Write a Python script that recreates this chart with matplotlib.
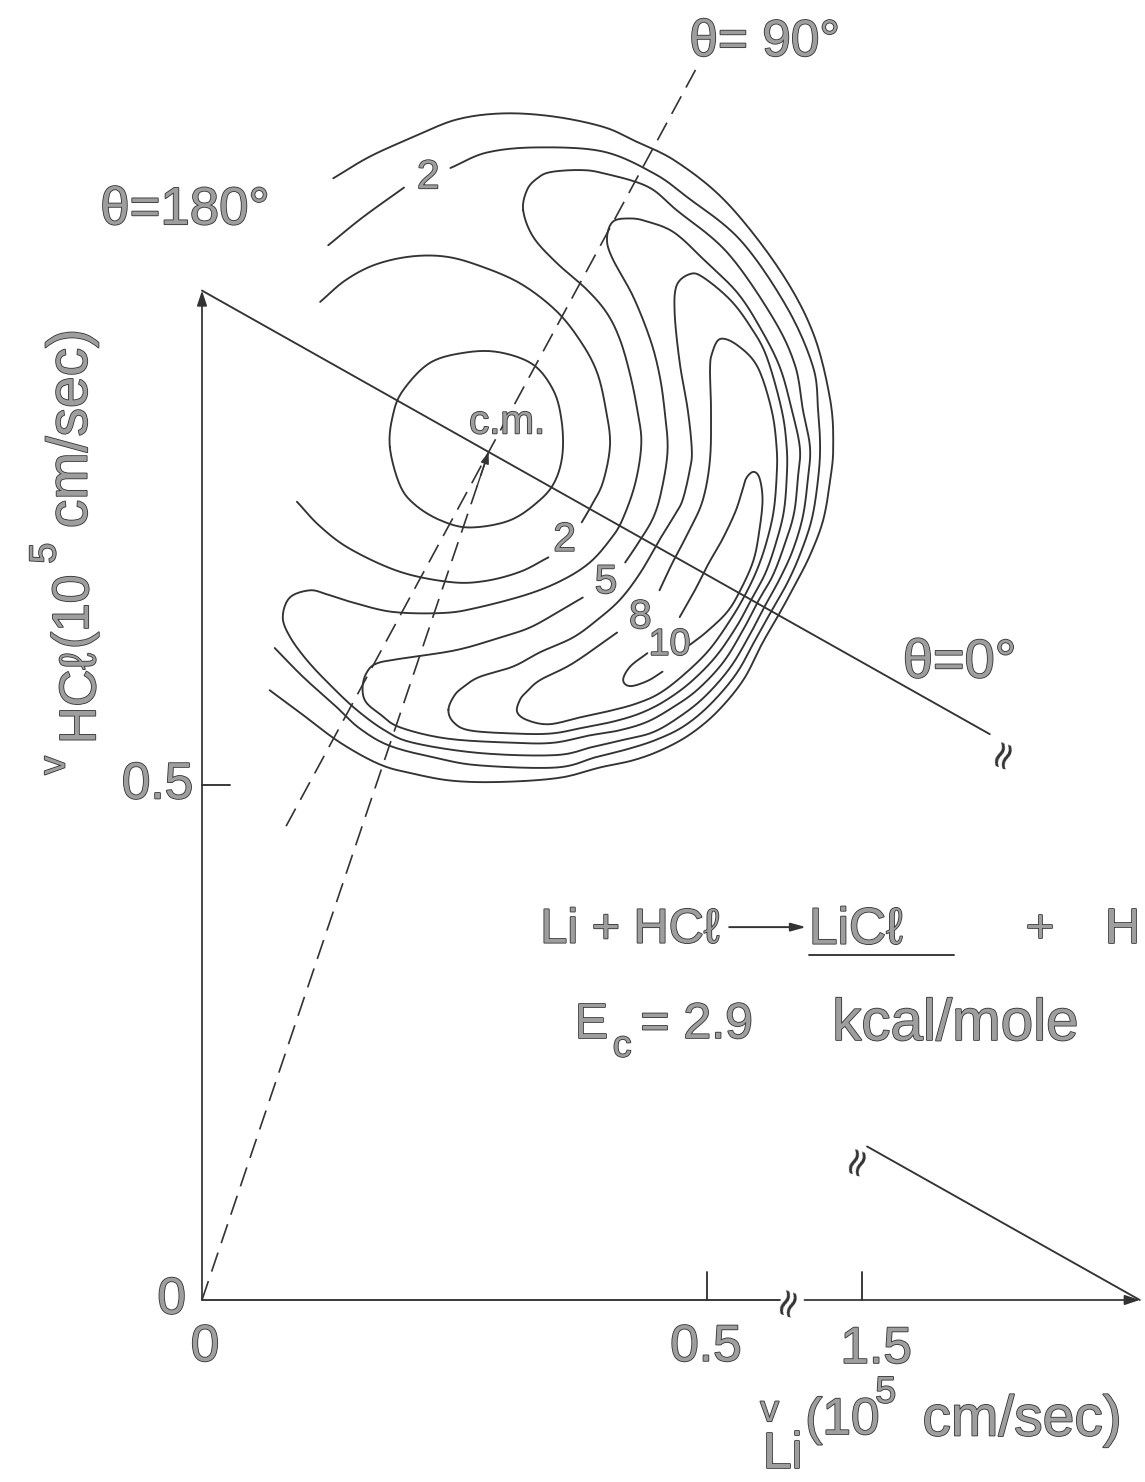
import numpy as np
import matplotlib.pyplot as plt
import matplotlib.patheffects as pe

INK = '#333333'
FONT = ['Liberation Sans', 'DejaVu Sans']

# speeds in units of 1e5 cm/sec
v_li = 1.775
v_hcl = 0.98
m_li, m_hcl = 6.94, 36.46

# the Li axis is broken between these two speeds
break_lo, break_hi = 0.572, 1.443
skip = 0.8465  # length cut out of the Li axis past the break

# LiCl flux contours, points given as (v_Li, v_HCl)
ring_1 = [(0.186, 0.828), (0.189, 0.859), (0.199, 0.883), (0.226, 0.910), (0.262, 0.920),
          (0.295, 0.920), (0.328, 0.908), (0.348, 0.883), (0.356, 0.854), (0.357, 0.822),
          (0.350, 0.796), (0.335, 0.777), (0.305, 0.757), (0.265, 0.750), (0.236, 0.757),
          (0.211, 0.772), (0.196, 0.791)]

inner_2a = [(0.117, 0.969), (0.142, 0.990), (0.171, 1.005), (0.206, 1.013), (0.241, 1.013),
            (0.275, 1.004), (0.315, 0.987), (0.350, 0.961), (0.374, 0.932), (0.391, 0.901),
            (0.400, 0.864), (0.404, 0.830), (0.397, 0.794), (0.386, 0.772), (0.376, 0.755)]
inner_2b = [(0.343, 0.721), (0.315, 0.707), (0.280, 0.698), (0.246, 0.697), (0.196, 0.707),
            (0.147, 0.729), (0.117, 0.751), (0.094, 0.775)]

outer_1 = [(0.130, 1.089), (0.166, 1.110), (0.209, 1.129), (0.252, 1.146), (0.298, 1.152),
           (0.348, 1.149), (0.397, 1.139), (0.427, 1.126), (0.470, 1.105), (0.520, 1.065),
           (0.572, 1.000), (0.605, 0.939), (0.622, 0.874), (0.625, 0.828), (0.622, 0.796),
           (0.615, 0.757), (0.602, 0.723), (0.587, 0.694), (0.572, 0.667), (0.555, 0.638),
           (0.536, 0.602), (0.510, 0.571), (0.483, 0.549), (0.455, 0.534), (0.427, 0.524),
           (0.394, 0.517), (0.354, 0.507), (0.298, 0.503), (0.249, 0.504), (0.209, 0.511),
           (0.176, 0.520), (0.137, 0.541), (0.100, 0.568), (0.067, 0.592)]

outer_2a = [(0.125, 1.024), (0.159, 1.051), (0.200, 1.080)]
outer_2b = [(0.246, 1.099), (0.282, 1.114), (0.332, 1.119), (0.397, 1.115), (0.447, 1.094),
            (0.480, 1.071), (0.533, 1.029), (0.579, 0.964), (0.605, 0.906), (0.610, 0.864),
            (0.612, 0.828), (0.610, 0.797), (0.604, 0.759), (0.593, 0.726), (0.580, 0.697),
            (0.565, 0.671), (0.549, 0.643), (0.529, 0.608), (0.503, 0.578), (0.477, 0.557),
            (0.450, 0.544), (0.422, 0.535), (0.390, 0.527), (0.351, 0.517), (0.275, 0.519),
            (0.233, 0.526), (0.186, 0.538), (0.156, 0.555), (0.134, 0.575), (0.100, 0.605),
            (0.072, 0.633)]

band_3 = [(0.318, 1.058), (0.322, 1.078), (0.332, 1.089), (0.345, 1.095), (0.374, 1.097),
          (0.397, 1.094), (0.441, 1.081), (0.470, 1.058), (0.520, 1.017), (0.565, 0.954),
          (0.587, 0.908), (0.595, 0.864), (0.602, 0.828), (0.600, 0.798), (0.595, 0.761),
          (0.585, 0.728), (0.572, 0.700), (0.558, 0.675), (0.543, 0.647), (0.523, 0.614),
          (0.497, 0.585), (0.471, 0.565), (0.446, 0.551), (0.418, 0.544), (0.387, 0.537),
          (0.350, 0.529), (0.275, 0.531), (0.209, 0.541), (0.181, 0.553), (0.153, 0.573),
          (0.127, 0.597), (0.104, 0.621), (0.087, 0.644), (0.080, 0.663), (0.087, 0.682),
          (0.107, 0.689), (0.124, 0.685), (0.150, 0.677), (0.189, 0.668), (0.239, 0.667),
          (0.272, 0.672), (0.322, 0.685), (0.357, 0.699), (0.384, 0.716), (0.404, 0.738),
          (0.416, 0.757), (0.429, 0.793), (0.435, 0.832), (0.431, 0.864), (0.424, 0.898),
          (0.414, 0.932), (0.401, 0.958), (0.381, 0.981), (0.351, 1.007), (0.328, 1.032)]

band_5 = [(0.377, 0.682), (0.351, 0.667), (0.325, 0.653), (0.298, 0.644), (0.252, 0.631),
          (0.199, 0.623), (0.173, 0.618), (0.163, 0.609), (0.159, 0.595), (0.162, 0.581),
          (0.176, 0.569), (0.196, 0.556), (0.243, 0.545), (0.308, 0.541), (0.348, 0.541),
          (0.383, 0.548), (0.413, 0.553), (0.440, 0.561), (0.464, 0.574), (0.490, 0.592),
          (0.516, 0.619), (0.536, 0.651), (0.551, 0.679), (0.565, 0.703), (0.576, 0.731),
          (0.586, 0.763), (0.590, 0.798), (0.592, 0.827), (0.584, 0.864), (0.572, 0.906),
          (0.552, 0.945), (0.530, 0.978), (0.500, 1.007), (0.468, 1.036), (0.441, 1.047),
          (0.424, 1.050), (0.407, 1.047), (0.401, 1.031), (0.406, 1.012), (0.427, 0.974),
          (0.444, 0.932), (0.453, 0.898), (0.458, 0.864), (0.461, 0.825), (0.455, 0.786),
          (0.447, 0.760), (0.434, 0.738), (0.419, 0.716)]

band_7 = [(0.244, 0.573), (0.250, 0.587), (0.260, 0.596), (0.275, 0.605), (0.308, 0.615),
          (0.335, 0.629), (0.367, 0.643), (0.391, 0.660), (0.414, 0.680), (0.434, 0.706),
          (0.453, 0.738), (0.468, 0.762), (0.476, 0.777), (0.483, 0.806), (0.485, 0.825),
          (0.481, 0.864), (0.473, 0.910), (0.468, 0.958), (0.470, 0.985), (0.483, 0.996),
          (0.496, 0.993), (0.523, 0.971), (0.543, 0.945), (0.559, 0.916), (0.574, 0.864),
          (0.579, 0.827), (0.579, 0.799), (0.576, 0.765), (0.568, 0.734), (0.558, 0.706),
          (0.545, 0.682), (0.530, 0.655), (0.509, 0.625), (0.484, 0.600), (0.459, 0.582),
          (0.435, 0.570), (0.409, 0.562), (0.379, 0.556), (0.346, 0.550), (0.308, 0.550),
          (0.265, 0.553), (0.249, 0.561)]

band_8 = [(0.411, 0.648), (0.367, 0.618), (0.335, 0.602), (0.322, 0.591), (0.315, 0.583),
          (0.312, 0.571), (0.322, 0.563), (0.344, 0.559), (0.376, 0.566), (0.404, 0.572),
          (0.430, 0.579), (0.453, 0.589), (0.477, 0.607), (0.502, 0.631), (0.523, 0.660),
          (0.538, 0.685), (0.550, 0.710), (0.559, 0.736), (0.566, 0.766), (0.569, 0.800),
          (0.569, 0.827), (0.564, 0.864), (0.550, 0.906), (0.530, 0.927), (0.513, 0.933),
          (0.505, 0.919), (0.503, 0.903), (0.504, 0.864), (0.503, 0.816), (0.496, 0.777),
          (0.483, 0.748), (0.466, 0.716), (0.453, 0.689)]

peak_10a = [(0.473, 0.663), (0.488, 0.689), (0.501, 0.714), (0.515, 0.738), (0.528, 0.765),
            (0.535, 0.786), (0.539, 0.798), (0.546, 0.804), (0.552, 0.798), (0.555, 0.777),
            (0.552, 0.748), (0.546, 0.718), (0.533, 0.689), (0.520, 0.668), (0.500, 0.649),
            (0.483, 0.636)]
peak_10b = [(0.456, 0.610), (0.441, 0.601), (0.424, 0.596), (0.417, 0.602), (0.424, 0.615),
            (0.441, 0.628)]


def spline(pts, closed=False, n=12):
    # Catmull-Rom through the traced points
    p = np.asarray(pts, float)
    if closed:
        p = np.vstack([p[-1], p, p[0], p[1]])
    else:
        p = np.vstack([2 * p[0] - p[1], p, 2 * p[-1] - p[-2]])
    t = np.linspace(0, 1, n, endpoint=False)[:, None]
    out = []
    for i in range(1, len(p) - 2):
        p0, p1, p2, p3 = p[i - 1], p[i], p[i + 1], p[i + 2]
        out.append(0.5 * (2 * p1 + (p2 - p0) * t + (2 * p0 - 5 * p1 + 4 * p2 - p3) * t ** 2
                          + (3 * p1 - p0 - 3 * p2 + p3) * t ** 3))
    out.append(p[-2][None])
    return np.vstack(out)


def li_axis(v):
    # Li speeds past the break are drawn shifted back
    v = np.asarray(v, float)
    return np.where(v > break_lo + 0.1, v - skip, v)


fig = plt.figure(figsize=(11.45, 14.82), dpi=100)
ax = fig.add_axes([0, 0, 1, 1])
ax.set_xlim(-0.2, 0.9337)
ax.set_ylim(-0.1767, 1.2621)
ax.axis('off')

line = dict(color=INK, lw=1.35, solid_capstyle='round')
dash = dict(color=INK, lw=1.2, ls=(0, (12, 6)))

for pts, closed in [(ring_1, True), (inner_2a, False), (inner_2b, False),
                    (outer_1, False), (outer_2a, False), (outer_2b, False),
                    (band_3, True), (band_5, False), (band_7, True), (band_8, False),
                    (peak_10a, False), (peak_10b, False)]:
    xy = spline(pts, closed)
    ax.plot(xy[:, 0], xy[:, 1], **line)

# Newton diagram
cm = np.array([m_li * v_li, m_hcl * v_hcl]) / (m_li + m_hcl)
head = dict(arrowstyle='-|>,head_length=0.9,head_width=0.3', color=INK, lw=1.25,
            shrinkA=0, shrinkB=0)

ax.annotate('', xy=(0, v_hcl), xytext=(0, 0), arrowprops=head)
ax.plot([0, break_lo], [0, 0], **line)
ax.annotate('', xy=(li_axis(v_li), 0), xytext=(li_axis(break_hi), 0), arrowprops=head)
ax.plot([0, 0.028], [0.5, 0.5], **line)
for v in (0.5, 1.5):
    ax.plot([li_axis(v)] * 2, [0, 0.027], **line)

# relative velocity, broken on its way to the Li tip
g_stop, g_restart = 0.78, 1.505
ax.plot([0, g_stop], [v_hcl, v_hcl * (1 - g_stop / v_li)], **line)
ax.plot(li_axis([g_restart, v_li]), [v_hcl * (1 - g_restart / v_li), 0], **line)

# centroid vector and the theta = 90 deg direction
ax.plot([0, cm[0]], [0, cm[1]], **dash)
ax.annotate('', xy=cm, xytext=cm * 0.96,
            arrowprops=dict(arrowstyle='-|>,head_length=0.7,head_width=0.25', color=INK,
                            lw=1.0, shrinkA=0, shrinkB=0))
u = np.array([v_hcl, v_li]) / np.hypot(v_hcl, v_li)
p0, p1 = cm - 0.415 * u, cm + 0.43 * u
ax.plot([p0[0], p1[0]], [p0[1], p1[1]], **dash)

for x, y in [(0.579, 0.0), (0.792, 0.532), (0.648, 0.137)]:
    ax.text(x, y, '≈', rotation=70, fontsize=28, color=INK, ha='center', va='center',
            family=['DejaVu Sans'])

# lettering: grey stroke with a dark rim
rim = [pe.withStroke(linewidth=1.2, foreground='#333333')]


def put(x, y, s, size, **kw):
    kw.setdefault('ha', 'center')
    kw.setdefault('va', 'center')
    ax.text(x, y, s, fontsize=size, color='#9e9e9e', family=FONT, path_effects=rim, **kw)


# contour levels
put(0.224, 1.090, '2', 29)
put(0.359, 0.738, '2', 29)
put(0.400, 0.697, '5', 29)
put(0.434, 0.663, '8', 29)
put(0.463, 0.636, '10', 27)
put(0.302, 0.852, 'c.m.', 29)

# scattering angles
put(0.557, 1.221, 'θ= 90°', 37)
put(-0.017, 1.058, 'θ=180°', 38)
put(0.750, 0.618, 'θ=0°', 39)

# ticks
put(-0.030, 0.0, '0', 37)
put(0.003, -0.046, '0', 37)
put(-0.044, 0.5, '0.5', 37)
put(0.499, -0.046, '0.5', 37)
put(li_axis(1.514), -0.048, '1.5', 37)

# axis titles
put(-0.146, 0.519, 'v', 27, rotation=90)
put(-0.119, 0.584, 'HCℓ', 37, rotation=90)
put(-0.126, 0.668, '(10', 37, rotation=90)
put(-0.155, 0.725, '5', 27, rotation=90)
put(-0.129, 0.846, 'cm/sec)', 41, rotation=90)

put(0.562, -0.108, 'v', 27)
put(0.575, -0.150, 'Li', 37)
put(0.634, -0.117, '(10', 37)
put(0.677, -0.090, '5', 27)
put(0.812, -0.117, 'cm/sec)', 41)

# reaction and collision energy
put(0.335, 0.359, 'Li + HCℓ', 35, ha='left')
ax.annotate('', xy=(0.598, 0.362), xytext=(0.522, 0.362),
            arrowprops=dict(arrowstyle='-|>,head_length=0.9,head_width=0.25', color=INK,
                            lw=1.4, shrinkA=0, shrinkB=0))
put(0.601, 0.359, 'LiCℓ', 37, ha='left')
ax.plot([0.601, 0.745], [0.335, 0.335], **line)
put(0.830, 0.359, '+', 35)
put(0.929, 0.359, 'H', 35, ha='right')

put(0.369, 0.267, 'E', 36, ha='left')
put(0.416, 0.246, 'c', 27)
put(0.434, 0.267, '= 2.9', 36, ha='left')
put(0.746, 0.267, 'kcal/mole', 42)

fig.savefig('out.png', dpi=100, facecolor='white')
